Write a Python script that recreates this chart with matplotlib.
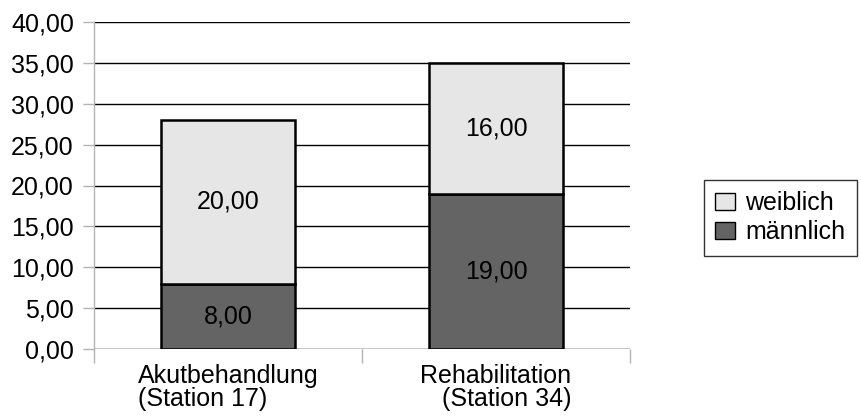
import matplotlib
matplotlib.use("Agg")
import matplotlib.pyplot as plt
from matplotlib.patches import Patch

categories = ["Akutbehandlung\n(Station 17)", "Rehabilitation\n(Station 34)"]
maennlich = [8.0, 19.0]
weiblich = [20.0, 16.0]
yticks = [0, 5, 10, 15, 20, 25, 30, 35, 40]

plt.rcParams['font.family'] = ['Liberation Sans', 'DejaVu Sans']
FS = 18

fig = plt.figure(figsize=(8.61, 4.16), dpi=100)
ax = fig.add_axes([94/861, 1-349/416, (630-94)/861, (349-22)/416])

def fmt(v):
    return f"{v:.2f}".replace(".", ",")

x = [0, 1]
c_m = "#646464"
c_w = "#e6e6e6"
ax.bar(x, maennlich, width=0.5, color=c_m, edgecolor="black", linewidth=1.8, zorder=3)
ax.bar(x, weiblich, bottom=maennlich, width=0.5, color=c_w, edgecolor="black", linewidth=1.8, zorder=3)

for xi, m, w in zip(x, maennlich, weiblich):
    ax.text(xi, m/2, fmt(m), ha="center", va="center", fontsize=FS, color="black", zorder=4)
    ax.text(xi, m + w/2, fmt(w), ha="center", va="center", fontsize=FS, color="black", zorder=4)

ax.set_xlim(-0.5, 1.5)
ax.set_ylim(0, 40)
ax.set_yticks(yticks)
ax.set_yticklabels([fmt(v) for v in yticks], fontsize=FS)
ax.yaxis.grid(True, color="black", linewidth=1.0, zorder=0)
ax.set_axisbelow(True)
for s in ["top", "right", "bottom"]:
    ax.spines[s].set_visible(False)
ax.spines["left"].set_color("#b3b3b3")
ax.spines["left"].set_linewidth(1.0)
ax.tick_params(axis="y", length=8, color="#b3b3b3", width=1.0, pad=6.5)

# category labels as major ticks (no tick marks), separators as minor ticks
ax.set_xticks(x)
ax.set_xticklabels(categories, fontsize=FS, linespacing=0.95)
labs = ax.get_xticklabels()
labs[0].set_multialignment("left")
labs[1].set_multialignment("right")
ax.tick_params(axis="x", which="major", length=0, pad=11)
ax.set_xticks([-0.5, 0.5, 1.5], minor=True)
ax.tick_params(axis="x", which="minor", length=10, color="#b3b3b3", width=1.0, direction="out")
ax.axhline(0, color="#b3b3b3", linewidth=1.0, zorder=1)

handles = [Patch(facecolor=c_w, edgecolor="black", linewidth=1.0, label="weiblich"),
           Patch(facecolor=c_m, edgecolor="black", linewidth=1.0, label="männlich")]
leg = fig.legend(handles=handles, loc="upper left", bbox_to_anchor=(704/861, 1-180/416),
                 fontsize=FS, frameon=True, fancybox=False, edgecolor="black",
                 handlelength=0.8, handleheight=0.65, handletextpad=0.4,
                 borderpad=0.45, labelspacing=0.2, borderaxespad=0)
leg.get_frame().set_linewidth(1.0)

fig.savefig("out.png", dpi=100)
